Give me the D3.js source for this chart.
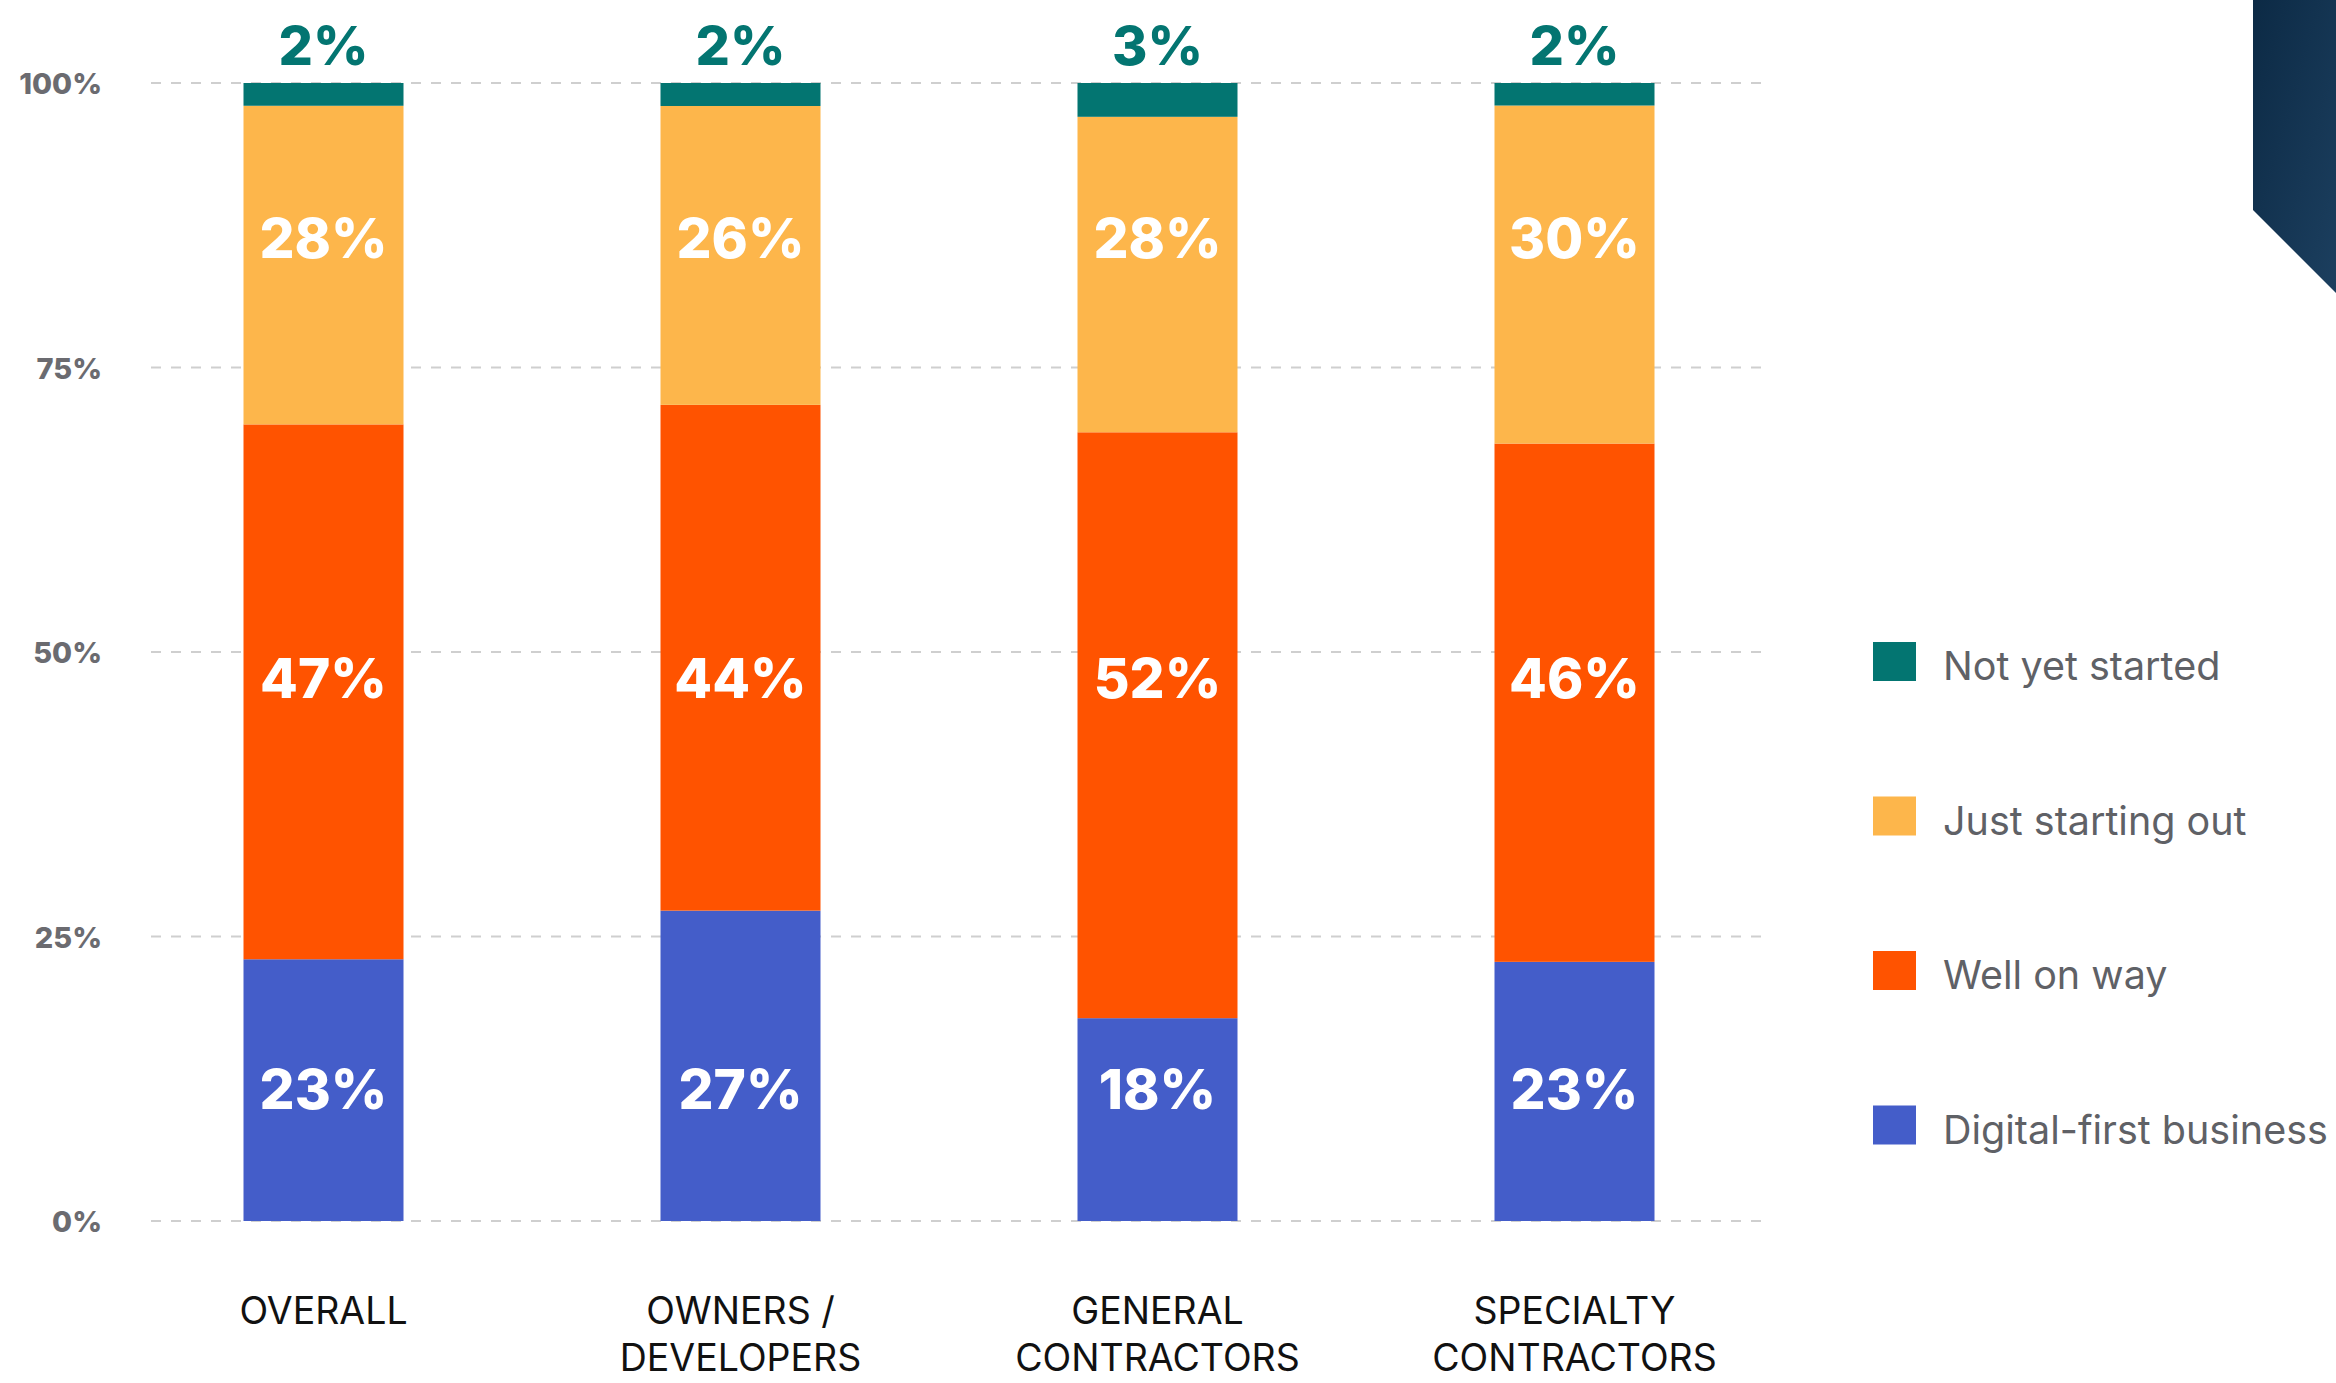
<!DOCTYPE html>
<html>
<head>
<meta charset="utf-8">
<script src="https://cdn.jsdelivr.net/npm/d3@7"></script>
<style>
  html, body { margin: 0; padding: 0; background: #ffffff; }
  svg { display: block; }
  text { font-family: Inter, "Noto Sans", Roboto, sans-serif; }
</style>
</head>
<body>
<svg id="chart" width="2336" height="1383"></svg>
<script>
// Survey groups (x axis), two-line labels
const categories = ["OVERALL", "OWNERS / DEVELOPERS", "GENERAL CONTRACTORS", "SPECIALTY CONTRACTORS"];
const categoryLines = [["OVERALL"], ["OWNERS /", "DEVELOPERS"], ["GENERAL", "CONTRACTORS"], ["SPECIALTY", "CONTRACTORS"]];

// Stack order: bottom to top
const seriesNames = ["Digital-first business", "Well on way", "Just starting out", "Not yet started"];
const digitalFirst = [23, 27, 18, 23];
const wellOnWay    = [47, 44, 52, 46];
const justStarting = [28, 26, 28, 30];
const notStarted   = [2, 2, 3, 2];

const yTicks = [0, 0.25, 0.5, 0.75, 1];
const yTickLabels = ["0%", "25%", "50%", "75%", "100%"];

// Legend order: top to bottom
const legendOrder = ["Not yet started", "Just starting out", "Well on way", "Digital-first business"];

const colors = {
  "Digital-first business": "#445DC9",
  "Well on way": "#FF5300",
  "Just starting out": "#FDB64B",
  "Not yet started": "#037571"
};

// Rows where the in-bar value labels sit (share of bar height)
const labelRow = {
  "Digital-first business": 0.116,
  "Well on way": 0.477,
  "Just starting out": 0.864
};

const rows = categories.map((c, i) => ({
  category: c,
  "Digital-first business": digitalFirst[i],
  "Well on way": wellOnWay[i],
  "Just starting out": justStarting[i],
  "Not yet started": notStarted[i]
}));

const svg = d3.select("#chart");

// Decorative corner panel
const grad = svg.append("defs").append("linearGradient")
  .attr("id", "cornerGrad").attr("x1", "0").attr("y1", "0").attr("x2", "1").attr("y2", "1");
grad.append("stop").attr("offset", "0%").attr("stop-color", "#0c2a45");
grad.append("stop").attr("offset", "100%").attr("stop-color", "#1c3f5f");
svg.append("path")
  .attr("d", "M2253,0 L2336,0 L2336,293 L2253,210 Z")
  .attr("fill", "url(#cornerGrad)");

const y = d3.scaleLinear().domain([0, 1]).range([1221, 83]);
const x = d3.scalePoint().domain(categories).range([323.5, 1574.5]);
const barW = 160;

// Gridlines
svg.append("g").selectAll("line").data(yTicks).join("line")
  .attr("x1", 151).attr("x2", 1768)
  .attr("y1", d => y(d)).attr("y2", d => y(d))
  .attr("stroke", "#cfcfcf").attr("stroke-width", 2)
  .attr("stroke-dasharray", "10 10");

// Y axis labels
svg.append("g").selectAll("text").data(yTicks).join("text")
  .attr("x", 102).attr("y", d => y(d) + 11)
  .attr("text-anchor", "end")
  .attr("font-size", 29).attr("font-weight", 800)
  .attr("fill", "#6b6b70")
  .text((d, i) => yTickLabels[i]);

const stack = d3.stack().keys(seriesNames).offset(d3.stackOffsetExpand);
const stacked = stack(rows);

// Bars
const layers = svg.append("g").selectAll("g").data(stacked).join("g")
  .attr("fill", d => colors[d.key]);
layers.selectAll("rect").data(d => d).join("rect")
  .attr("x", d => x(d.data.category) - barW / 2)
  .attr("width", barW)
  .attr("y", d => y(d[1]))
  .attr("height", d => y(d[0]) - y(d[1]));

// In-bar value labels
const innerLayers = stacked.filter(s => s.key !== "Not yet started");
svg.append("g").selectAll("g").data(innerLayers).join("g")
  .each(function (s) {
    d3.select(this).selectAll("text").data(s).join("text")
      .attr("x", d => x(d.data.category))
      .attr("y", y(labelRow[s.key]) + 20)
      .attr("text-anchor", "middle")
      .attr("font-size", 55).attr("font-weight", 800)
      .attr("fill", "#ffffff")
      .text(d => d.data[s.key] + "%");
  });

// Labels above the bars for the top segment
const topLayer = stacked.find(s => s.key === "Not yet started");
svg.append("g").selectAll("text").data(topLayer).join("text")
  .attr("x", d => x(d.data.category))
  .attr("y", d => y(d[1]) - 18)
  .attr("text-anchor", "middle")
  .attr("font-size", 54).attr("font-weight", 800)
  .attr("fill", "#037571")
  .text(d => d.data["Not yet started"] + "%");

// Category labels
const cat = svg.append("g").selectAll("text").data(categories).join("text")
  .attr("x", d => x(d))
  .attr("y", 1324)
  .attr("text-anchor", "middle")
  .attr("font-size", 37.5).attr("font-weight", 400)
  .attr("fill", "#111111");
cat.each(function (d, i) {
  d3.select(this).selectAll("tspan").data(categoryLines[i]).join("tspan")
    .attr("x", x(d))
    .attr("dy", (t, j) => j === 0 ? 0 : 47)
    .text(t => t);
});

// Legend
const legend = svg.append("g").selectAll("g").data(legendOrder).join("g")
  .attr("transform", (d, i) => `translate(1873, ${642 + i * 154.5})`);
legend.append("rect")
  .attr("width", 43).attr("height", 39)
  .attr("fill", d => colors[d]);
legend.append("text")
  .attr("x", 70).attr("y", 38)
  .attr("font-size", 39.5).attr("font-weight", 400)
  .attr("fill", "#5f6166")
  .text(d => d);
</script>
</body>
</html>
